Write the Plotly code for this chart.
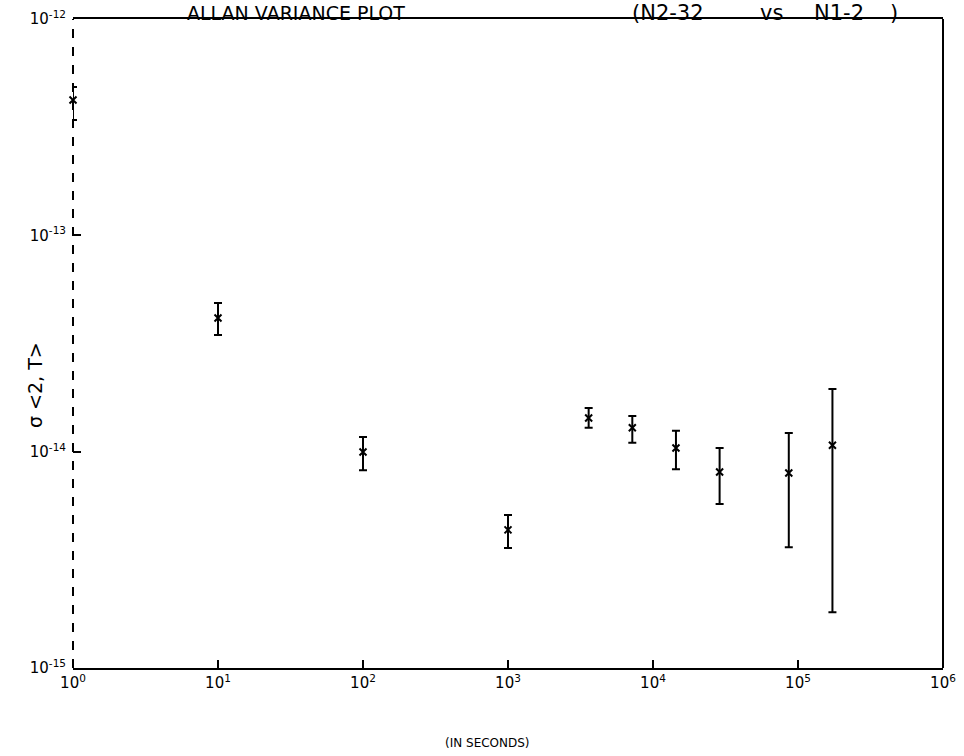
import plotly.graph_objects as go

# Averaging time tau (s)
tau = [1, 10, 100, 1000, 3600, 7200, 14400, 28800, 86400, 172800]
# Allan deviation estimate and error-bar bounds
sigma    = [4.22e-13, 4.15e-14, 9.96e-15, 4.35e-15, 1.43e-14, 1.29e-14, 1.04e-14, 8.05e-15, 7.97e-15, 1.07e-14]
sigma_hi = [4.85e-13, 4.86e-14, 1.17e-14, 5.09e-15, 1.59e-14, 1.46e-14, 1.25e-14, 1.04e-14, 1.22e-14, 1.95e-14]
sigma_lo = [3.41e-13, 3.46e-14, 8.20e-15, 3.59e-15, 1.29e-14, 1.10e-14, 8.30e-15, 5.73e-15, 3.62e-15, 1.81e-15]

x_tickvals = [1, 10, 100, 1000, 10000, 100000, 1000000]
x_ticktext = ["10<sup>0</sup>", "10<sup>1</sup>", "10<sup>2</sup>", "10<sup>3</sup>",
              "10<sup>4</sup>", "10<sup>5</sup>", "10<sup>6</sup>"]
y_tickvals = [1e-15, 1e-14, 1e-13, 1e-12]
y_ticktext = ["10<sup>-15</sup>", "10<sup>-14</sup>", "10<sup>-13</sup>", "10<sup>-12</sup>"]

title_left = "ALLAN VARIANCE PLOT"
title_right_parts = ["(N2-32", "vs", "N1-2", ")"]
title_right_x = [668, 771, 839, 894]   # pixel centres of the parts

err_plus = [h - s for h, s in zip(sigma_hi, sigma)]
err_minus = [s - l for s, l in zip(sigma, sigma_lo)]

FONT = "DejaVu Sans"
PL, PT, PW, PH = 73, 19, 870, 649
W, H = 964, 756

fig = go.Figure()
fig.add_trace(go.Scatter(
    x=tau, y=sigma, mode="markers",
    marker=dict(symbol="x-thin", size=7, color="black", line=dict(width=2, color="black")),
    error_y=dict(type="data", symmetric=False, array=err_plus, arrayminus=err_minus,
                 color="black", thickness=2, width=4),
    cliponaxis=False, showlegend=False,
))

ann = [
    dict(text=title_left, xref="paper", yref="paper", x=(185 - PL) / PW,
         y=1 + 6 / PH, xanchor="left", yanchor="middle", showarrow=False,
         font=dict(size=19, family=FONT)),
    dict(text="σ &lt;2, T&gt;", xref="paper", yref="paper", x=(35 - PL) / PW,
         y=(PT + PH - 385) / PH, xanchor="center", yanchor="middle", textangle=-90,
         showarrow=False, font=dict(size=19, family=FONT)),
    dict(text="(IN SECONDS)", xref="paper", yref="paper", x=(487 - PL) / PW,
         y=(PT + PH - 743) / PH, xanchor="center", yanchor="middle", showarrow=False,
         font=dict(size=12, family=FONT)),
]
for t, px in zip(title_right_parts, title_right_x):
    ann.append(dict(text=t, xref="paper", yref="paper", x=(px - PL) / PW,
                    y=1 + 6 / PH, xanchor="center", yanchor="middle", showarrow=False,
                    font=dict(size=21, family=FONT)))

fig.update_layout(
    width=W, height=H,
    margin=dict(l=PL, r=W - PL - PW, t=PT, b=H - PT - PH, autoexpand=False),
    paper_bgcolor="white", plot_bgcolor="white",
    font=dict(family=FONT, color="black", size=13),
    xaxis=dict(type="log", range=[0, 6], tickvals=x_tickvals, ticktext=x_ticktext,
               automargin=False,
               showgrid=False, zeroline=False, showline=True, linecolor="black", linewidth=2,
               mirror=True, ticks="inside", ticklen=8, tickwidth=1.5, tickcolor="black",
               tickfont=dict(size=15, family=FONT)),
    yaxis=dict(type="log", range=[-15, -12], tickvals=y_tickvals, ticktext=y_ticktext,
               automargin=False, ticklabelstandoff=6,
               showgrid=False, zeroline=False, showline=False,
               ticks="inside", ticklen=8, tickwidth=1.5, tickcolor="black",
               tickfont=dict(size=15, family=FONT)),
    shapes=[
        dict(type="line", xref="paper", yref="paper", x0=0, x1=0, y0=0, y1=1,
             line=dict(color="black", width=2, dash="dash")),
        dict(type="line", xref="paper", yref="paper", x0=1, x1=1, y0=0, y1=1,
             line=dict(color="black", width=2)),
    ],
    annotations=ann,
)

# remove the default 8px page margin so the figure sits at the window's corner
fig.write_html("out.html", config={"displayModeBar": False},
               post_script="document.body.style.margin='0';")
